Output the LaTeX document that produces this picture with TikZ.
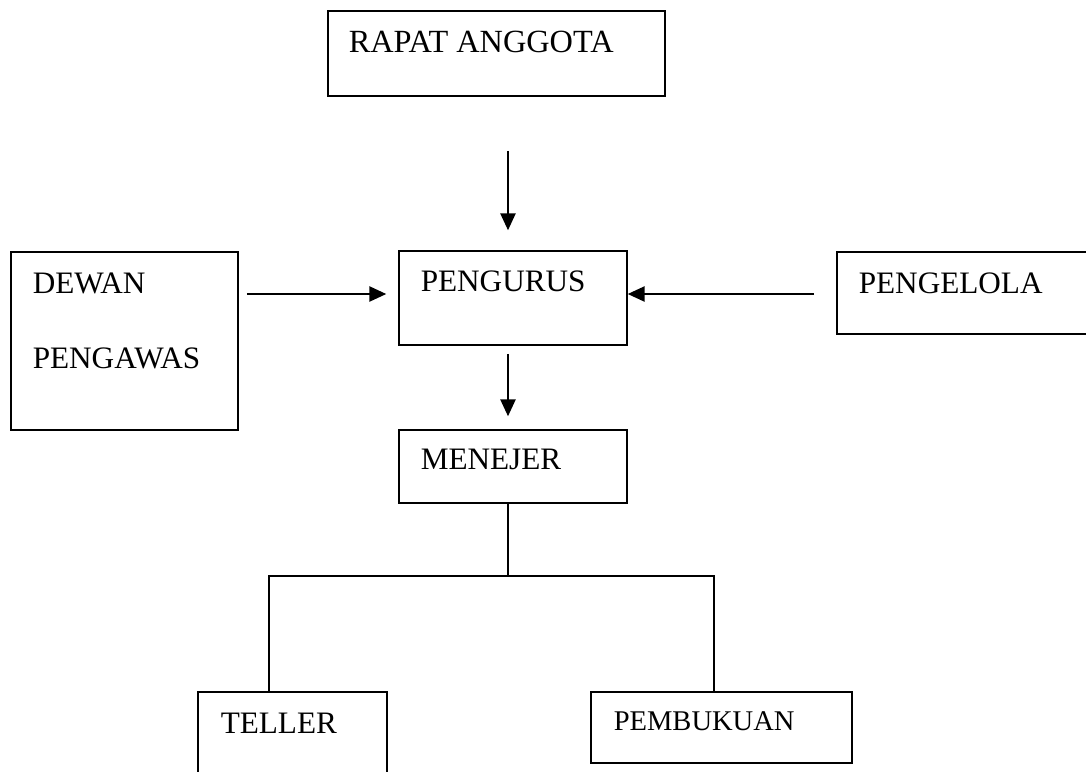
\documentclass[tikz,border=0pt]{standalone}
\usepackage{fontspec}
\setmainfont{Liberation Serif}
\usetikzlibrary{fit, arrows.meta}

\begin{document}
\begin{tikzpicture}[x=0.025cm, y=-0.025cm, line width=1.1pt,
    box/.style={draw, inner sep=0, fit={#1}},
    lbl/.style={anchor=base west, inner sep=0, font=\fontsize{22.2}{26}\selectfont},
    arr/.style={-{Triangle[length=0.42cm, width=0.38cm]}}]
  \clip (0, 0) rectangle (1086, 771);
  \node[box={(328, 11) (665, 96)}] (rapat) {};
  \node[box={(399, 251) (627, 345)}] (pengurus) {};
  \node[box={(11, 252) (238, 430)}] (dewan) {};
  \node[box={(837, 252) (1095, 334)}] (pengelola) {};
  \node[box={(399, 430) (627, 503)}] (menejer) {};
  \node[box={(198, 692) (387, 790)}] (teller) {};
  \node[box={(591, 692) (852, 763)}] (pembukuan) {};

  \node[lbl, font=\fontsize{23}{27}\selectfont] (rapat-t) at (348, 52) {RAPAT ANGGOTA};
  \node[lbl] (pengurus-t) at (420, 291) {PENGURUS};
  \node[lbl] (dewan-t) at (32, 293) {DEWAN};
  \node[lbl] (pengawas-t) at (32, 368) {PENGAWAS};
  \node[lbl] (pengelola-t) at (858, 293) {PENGELOLA};
  \node[lbl] (menejer-t) at (420, 469) {MENEJER};
  \node[lbl] (teller-t) at (220, 733) {TELLER};
  \node[lbl, font=\fontsize{20.3}{24}\selectfont] (pembukuan-t) at (613, 730) {PEMBUKUAN};

  \coordinate (mid) at (508, 0);
  \coordinate (row) at (0, 294);
  \coordinate (split) at (508, 576);
  \coordinate (tl) at (269, 576);
  \coordinate (pb) at (714, 576);

  \draw[arr, shorten <=1.35cm, shorten >=0.5cm] (rapat.south -| mid) -- (pengurus.north -| mid);
  \draw[arr, shorten <=0.2cm, shorten >=0.3cm] (dewan.east |- row) -- (pengurus.west |- row);
  \draw[arr, shorten <=0.55cm] (pengelola.west |- row) -- (pengurus.east |- row);
  \draw[arr, shorten <=0.2cm, shorten >=0.325cm] (pengurus.south -| mid) -- (menejer.north -| mid);
  \draw (menejer.south -| split) -- (split);
  \draw (teller.north -| tl) -- (tl) -- (pb) -- (pembukuan.north -| pb);
\end{tikzpicture}
\end{document}
